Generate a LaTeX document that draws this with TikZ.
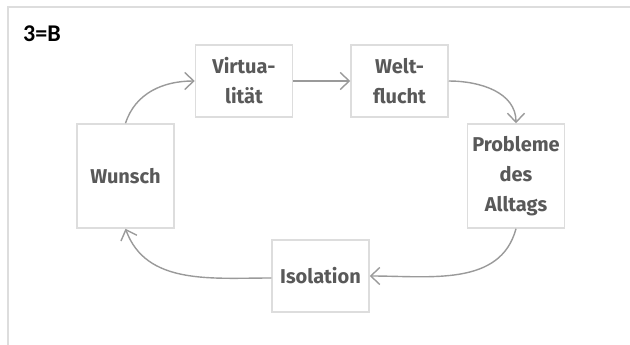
\documentclass[tikz,border=0pt]{standalone}
\usepackage{fontspec}
\setmainfont{Fira Sans}
\newfontfamily\titlefont{Carlito}
\usetikzlibrary{positioning}
\usetikzlibrary{arrows.meta}
\definecolor{boxgray}{HTML}{DDDDDD}
\definecolor{textgray}{HTML}{595959}
\definecolor{arrowgray}{HTML}{9A9A9A}

\begin{document}
\begin{tikzpicture}[
 x=1pt, y=-1pt,
 idea/.style={rectangle, draw=boxgray, line width=1.5pt, fill=white, text=textgray,
 minimum width=97pt, inner sep=2pt, align=center,
 font=\fontsize{20}{30}\selectfont\bfseries},
 arrow/.style={-{Straight Barb[length=9pt, width=17pt]}, draw=arrowgray, line width=1.4pt}
]
\useasboundingbox (0,0) rectangle (630,345);
\fill[white] (0,0) rectangle (630,345);

% outer frame
\draw[boxgray, line width=2pt] (8,360) -- (8,7) -- (640,7);
\node[anchor=base west, inner sep=0pt, font=\titlefont\bfseries\fontsize{24}{28}\selectfont] (title) at (23,42) {3=B};

% boxes of the cycle
\node[idea, minimum height=104pt] (wunsch) at (125.5,176) {Wunsch};
\node[idea, minimum height=72pt] (virt) at (244,81) {Virtua-\\lität};
\node[idea, minimum height=72pt, right=57pt of virt] (welt) {Welt-\\flucht};
\node[idea, minimum height=104pt] (probl) at (516,176) {Probleme\\des\\Alltags};
\node[idea, minimum height=72pt] (iso) at (320.5,276) {Isolation};

% connectors
\draw[arrow] (wunsch.north) to[out=72, in=180] (virt.west);
\draw[arrow] (virt.east) -- (welt.west);
\draw[arrow] (welt.east) to[out=0, in=90] (probl.north);
\draw[arrow] (probl.south) to[out=-105, in=0] (iso.east);
\draw[arrow] ([yshift=-2pt]iso.west) to[out=180, in=-70] (wunsch.south);
\end{tikzpicture}
\end{document}
